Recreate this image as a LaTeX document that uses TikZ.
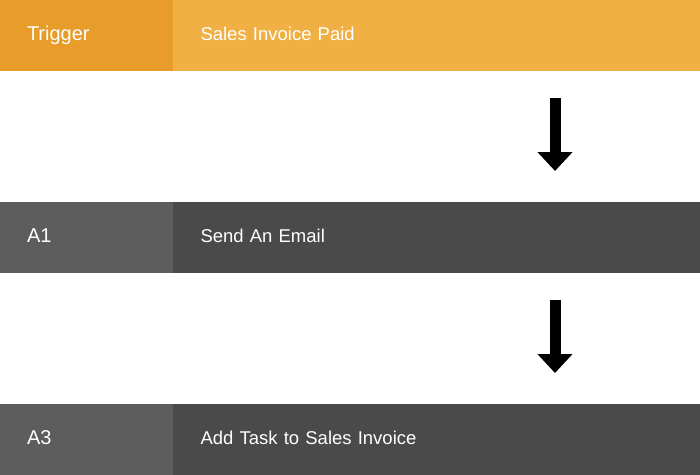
\documentclass[tikz,border=0pt]{standalone}
\usepackage{fontspec}
\setmainfont{Liberation Sans}
\usepackage{xcolor}
\usetikzlibrary{arrows.meta}
\usetikzlibrary{positioning}
\definecolor{trigdark}{HTML}{E89C2A}
\definecolor{triglight}{HTML}{F0B043}
\definecolor{actdark}{HTML}{5D5D5D}
\definecolor{actlight}{HTML}{4A4A4A}

\begin{document}
\begin{tikzpicture}[x=1pt,y=1pt]
\tikzset{stepname/.style={rectangle,minimum height=71pt,text width=119pt,inner xsep=27pt,inner ysep=0pt,outer sep=0pt,text height=14pt,text depth=4pt,align=left,text=white,font=\fontsize{20}{24}\selectfont},
steptext/.style={rectangle,minimum height=71pt,text width=471.5pt,inner xsep=28pt,inner ysep=0pt,outer sep=0pt,text height=14pt,text depth=4pt,align=left,text=white,font=\fontsize{18.5}{22}\selectfont},
flow/.style={line width=11pt,-{Triangle[width=34pt,length=19pt]},shorten <=27pt,shorten >=31pt}}
\useasboundingbox (0,0) rectangle (700,-474);
\node[stepname,fill=trigdark,anchor=north west](trig) at (0,0){Trigger};
\node[steptext,fill=triglight](trigtext)[right=-0.5pt of trig]{Sales Invoice Paid};
\node[stepname,fill=actdark](aone)[below=131pt of trig]{A1};
\node[steptext,fill=actlight](aonetext)[right=-0.5pt of aone]{Send An Email};
\node[stepname,fill=actdark](athree)[below=131pt of aone]{A3};
\node[steptext,fill=actlight](athreetext)[right=-0.5pt of athree]{Add Task to Sales Invoice};
\draw[flow](trigtext.south -| 555,0) -- (aonetext.north -| 555,0);
\draw[flow](aonetext.south -| 555,0) -- (athreetext.north -| 555,0);
\end{tikzpicture}
\end{document}
